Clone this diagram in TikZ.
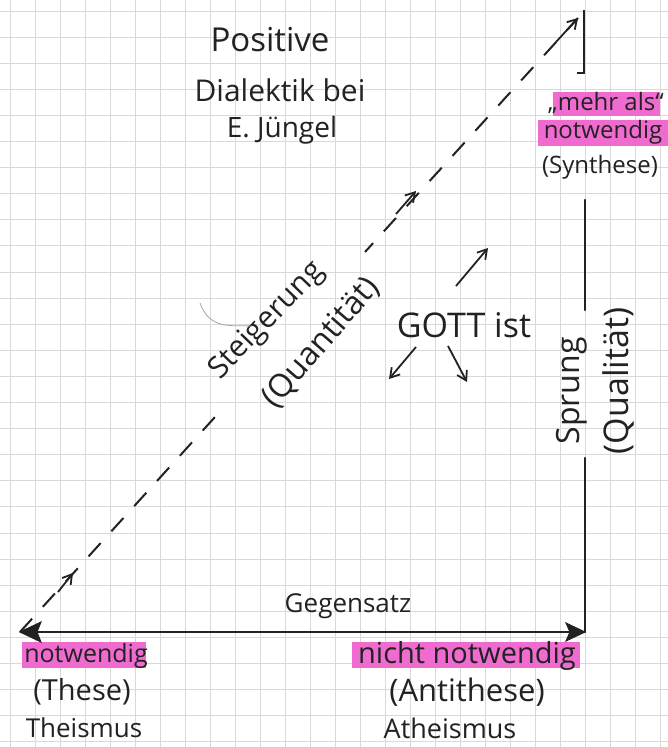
\documentclass[tikz,border=0pt]{standalone}
\usepackage{fontspec}
\setmainfont{Open Sans}
\usetikzlibrary{arrows.meta}
\definecolor{ink}{HTML}{222222}
\definecolor{gridc}{HTML}{D9D9DC}
\definecolor{hlpink}{HTML}{F06BD0}
\newcommand{\fsz}[1]{\fontsize{#1}{#1}\selectfont}
\tikzset{
  gridline/.style={draw=gridc, line width=1pt},
  hl/.style={fill=hlpink},
  hand/.style={text=ink, inner sep=0pt, font=\fsz{24}},
  solidline/.style={draw=ink, line width=2.4pt},
  dashline/.style={draw=ink, line width=2pt, dash pattern=on 18pt off 16pt},
  smallarrow/.style={draw=ink, line width=1.8pt, -{Straight Barb[length=9pt,width=11pt]}},
  headfill/.style={fill=ink, draw=ink, line width=1pt, line join=miter}
}
\begin{document}
\begin{tikzpicture}[x=1pt,y=-1pt]
\useasboundingbox (0,0) rectangle (668,747);
\fill[white] (0,0) rectangle (668,747);
% grid paper
\foreach \i in {0,...,26} \draw[gridline] ({10.7+25*\i},0) -- ++(0,747);
\foreach \j in {0,...,28} \draw[gridline] (0,{11+26.1*\j}) -- ++(668,0);

% highlights
\fill[hl] (553,92) rectangle (660,116);
\fill[hl] (538,120) rectangle (668,146);
\fill[hl] (22,642) rectangle (146,668);
\fill[hl] (352,642) rectangle (580,668);

% key points
\coordinate (A) at (20,632);
\coordinate (B) at (585,632);
\coordinate (C) at (578,18);
\coordinate (P1) at (215,417);
\coordinate (P2) at (365,252);
\coordinate (Sbot) at (585,458);
\coordinate (Stop) at (585,310);
\coordinate (Vtop) at (585,200);
\coordinate (Ktop) at (584,10);
\coordinate (Kbot) at (584,73);
\coordinate (Kfoot) at (577,73);

% title
\node[hand, font=\fsz{33}] (t1) at (270,40) {Positive};
\node[hand, font=\fsz{30}] (t2) at (280,90) {Dialektik bei};
\node[hand, font=\fsz{28}] (t3) at (282,130) {E. Jüngel};

% synthese labels
\node[hand] (s1) at (606,103) {„mehr als“};
\node[hand] (s2) at (603,132) {notwendig};
\node[hand] (s3) at (600,167) {(Synthese)};

% bottom labels
\node[hand, font=\fsz{26}] (g) at (348,606) {Gegensatz};
\node[hand, font=\fsz{25}] (n1) at (86,656) {notwendig};
\node[hand, font=\fsz{29}] (n2) at (82,692) {(These)};
\node[hand, font=\fsz{26}] (n3) at (84,728) {Theismus};
\node[hand, font=\fsz{29}] (a1) at (467,656) {nicht notwendig};
\node[hand, font=\fsz{31}] (a2) at (467,692) {(Antithese)};
\node[hand, font=\fsz{27}] (a3) at (450,728) {Atheismus};

% diagonal labels
\node[hand, font=\fsz{30}, rotate=46] (st) at (267,321) {Steigerung};
\node[hand, font=\fsz{32}, rotate=49] (qt) at (321,343) {(Quantität)};

% vertical labels
\node[hand, font=\fsz{32}, rotate=90] (sp) at (572,391) {Sprung};
\node[hand, font=\fsz{34}, rotate=90] (ql) at (618,381) {(Qualität)};

% GOTT ist
\node[hand, font=\fsz{34}] (gott) at (464,325) {GOTT ist};
\coordinate (g1s) at (456,286); \coordinate (g1e) at (488,248);
\coordinate (g2s) at (416,347); \coordinate (g2e) at (389,379);
\coordinate (g3s) at (448,346); \coordinate (g3e) at (467,382);
\draw[smallarrow] (g1s) -- (g1e);
\draw[smallarrow] (g2s) -- (g2e);
\draw[smallarrow] (g3s) -- (g3e);

% main lines
\draw[solidline] (A) -- (B);
\fill[headfill] (A) -- ++(21,-10) -- ++(-4,10) -- ++(4,10) -- cycle;
\fill[headfill] (B) -- ++(-19,-9) -- ++(4,9) -- ++(-4,9) -- cycle;
\draw[solidline, line cap=round] (B) -- (Sbot);
\draw[solidline, line cap=round] (Stop) -- (Vtop);
\draw[draw=ink, line width=2pt] (Ktop) -- (Kbot) -- (Kfoot);

% dashed diagonal, interrupted by its label
\draw[dashline] (A) -- (P1);
\draw[dashline, dash phase=6pt] (P2) -- (C);
\coordinate (d1s) at (58,592); \coordinate (d1e) at (73,573);
\coordinate (d2s) at (396,214); \coordinate (d2e) at (416,191);
\coordinate (d3s) at (556,42); \coordinate (d3e) at (578,18);
\draw[smallarrow] (d1s) -- (d1e);
\draw[smallarrow] (d2s) -- (d2e);
\draw[smallarrow] (d3s) -- (d3e);

% faint pencil stroke
\draw[draw=gray!70, line width=0.8pt] (200,303) .. controls (210,330) and (230,325) .. (252,326);
\end{tikzpicture}
\end{document}
